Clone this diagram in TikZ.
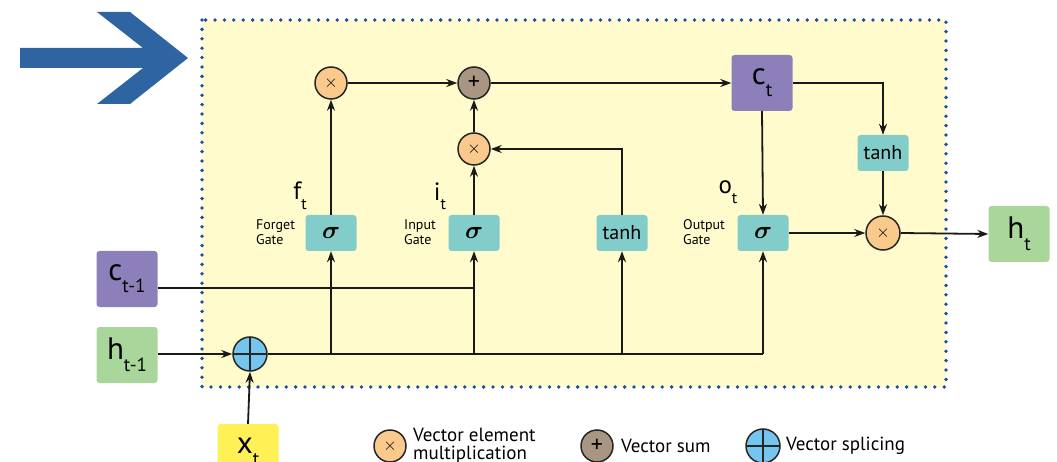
\documentclass[tikz,border=0pt]{standalone}
\usepackage{fontspec}
\setmainfont{PT Sans}
\usepackage{bm}
\usetikzlibrary{arrows.meta,calc}
\definecolor{bgyel}{HTML}{FFFBCC}
\definecolor{dotblue}{HTML}{1F4F9C}
\definecolor{bigarrow}{HTML}{2F64A3}
\definecolor{orangec}{HTML}{F9CA8C}
\definecolor{sumc}{HTML}{A89682}
\definecolor{splc}{HTML}{74C6EE}
\definecolor{tealb}{HTML}{82CCC9}
\definecolor{purpb}{HTML}{8D80BA}
\definecolor{greenb}{HTML}{A9D69B}
\definecolor{yelb}{HTML}{FFF155}
\newcommand{\lsub}[2]{\raisebox{-0.38em}{\fontsize{#2}{#2}\selectfont #1}}
\begin{document}
\begin{tikzpicture}[x=1pt,y=-1pt,
  conn/.style={line width=1.8pt,draw=black!90},
  arr/.style={conn,-{Stealth[length=11pt,width=8pt]}},
  opc/.style={circle,draw=black!85,line width=1.5pt,minimum size=32pt,inner sep=0pt},
  mulc/.style={opc,fill=orangec,font=\fontsize{17}{17}\selectfont},
  sumcs/.style={opc,fill=sumc,font=\fontsize{24}{24}\selectfont},
  splcs/.style={opc,fill=splc,minimum size=34pt,path picture={
      \draw[line width=1.5pt] (path picture bounding box.north) -- (path picture bounding box.south);
      \draw[line width=1.5pt] (path picture bounding box.west) -- (path picture bounding box.east);}},
  gbox/.style={rounded corners=3pt,fill=tealb,minimum width=51pt,minimum height=36pt,inner sep=0pt},
  sbox/.style={rounded corners=3pt,minimum width=61pt,minimum height=56pt,inner sep=0pt,font=\fontsize{31}{31}\selectfont},
  gatelab/.style={align=left,font=\fontsize{14}{15}\selectfont,inner sep=0pt},
  sublab/.style={font=\fontsize{25}{25}\selectfont,inner sep=0pt},
  legtxt/.style={align=left,font=\fontsize{19}{19}\selectfont,inner sep=0pt,anchor=west}
]
\path[use as bounding box] (0,0) rectangle (1057,462);
\clip (0,0) rectangle (1057,462);

% big arrow
\fill[bigarrow] (20,48) -- (143,48) -- (97,12) -- (130,12) -- (188,58)
  -- (130,104) -- (97,104) -- (143,68) -- (20,68) -- cycle;

% background and dotted frame
\fill[bgyel] (202,20) rectangle (946,387);
\draw[dotblue,line width=3.8pt,line cap=round,dash pattern=on 0pt off 9.4pt]
  (202,20) rectangle (946,387);

% nodes
\node[mulc] (mulF) at (331,83) {$\times$};
\node[sumcs] (sum) at (474,83) {+};
\node[mulc] (mulI) at (474,149) {$\times$};
\node[sbox,fill=purpb] (ct) at (762,83) {c\lsub{t}{19}};
\node[gbox,font=\fontsize{20}{20}\selectfont] (tanhC) at (883,153) {tanh};
\node[mulc,minimum size=34pt] (mulO) at (883,233) {$\times$};

\node[gbox,font=\fontsize{30}{30}\selectfont] (sigF) at (331,233) {$\bm\sigma$};
\node[gbox,font=\fontsize{30}{30}\selectfont] (sigI) at (474,233) {$\bm\sigma$};
\node[gbox,font=\fontsize{20}{20}\selectfont] (tanhI) at (622,233) {tanh};
\node[gbox,font=\fontsize{30}{30}\selectfont] (sigO) at (763,233) {$\bm\sigma$};

\node[sbox,fill=greenb] (ht) at (1019,234) {h\lsub{t}{19}};
\node[sbox,fill=purpb] (ctm1) at (127,279) {c\lsub{t-1}{19}};
\node[sbox,fill=greenb] (htm1) at (127,355) {h\lsub{t-1}{19}};
\node[splcs] (spl) at (250,354) {};
\node[sbox,fill=yelb] (xt) at (248,452) {x\lsub{t}{19}};

% labels
\node[sublab] (ftl) at (300,196) {f\lsub{t}{16}};
\node[sublab] (itl) at (440,196) {i\lsub{t}{16}};
\node[sublab] (otl) at (728,192) {o\lsub{t}{16}};
\node[gatelab,anchor=west] (fg) at (256,232) {Forget\\Gate};
\node[gatelab,anchor=west] (ig) at (404,232) {Input\\Gate};
\node[gatelab,anchor=west] (og) at (683,232) {Output\\Gate};

% connectors
\draw[arr] (sigF.north) -- (mulF.south);
\draw[arr] (mulF.east) -- (sum.west);
\draw[arr] (sigI.north) -- (mulI.south);
\draw[arr] (mulI.north) -- (sum.south);
\draw[arr] (tanhI.north) |- (mulI.east);
\draw[arr] (sum.east) -- (ct.west);
\draw[arr] (ct.east) -| (tanhC.north);
\draw[arr] (tanhC.south) -- (mulO.north);
\draw[arr] (ct.south) -- (sigO.north);
\draw[arr] (sigO.east) -- (mulO.west);
\draw[arr] (mulO.east) -- (ht.west);
\draw[arr] (htm1.east |- spl.west) -- (spl.west);
\draw[arr] (xt.north) -- (spl.south);

\coordinate (jO) at (sigO.south |- spl.east);
\coordinate (jF) at (sigF.south |- spl.east);
\coordinate (jI) at (sigI.south |- spl.east);
\coordinate (jT) at (tanhI.south |- spl.east);
\draw[conn] (spl.east) -- (jO);
\draw[arr] (jO) -- (sigO.south);
\draw[arr] (jF) -- (sigF.south);
\draw[arr] (jI) -- (sigI.south);
\draw[arr] (jT) -- (tanhI.south);
\coordinate (cA) at (ctm1.east |- 0,288);
\coordinate (cB) at (sigI.south |- 0,288);
\draw[conn] (cA) -- (cB);

% legend
\node[mulc] (legM) at (390,446) {$\times$};
\node[legtxt] (legMt) at (413,446) {Vector element\\[-1pt]multiplication};
\node[sumcs] (legS) at (597,446) {+};
\node[legtxt] (legSt) at (621,446) {Vector sum};
\node[splcs] (legP) at (763,446) {};
\node[legtxt] (legPt) at (786,446) {Vector splicing};
\end{tikzpicture}
\end{document}
